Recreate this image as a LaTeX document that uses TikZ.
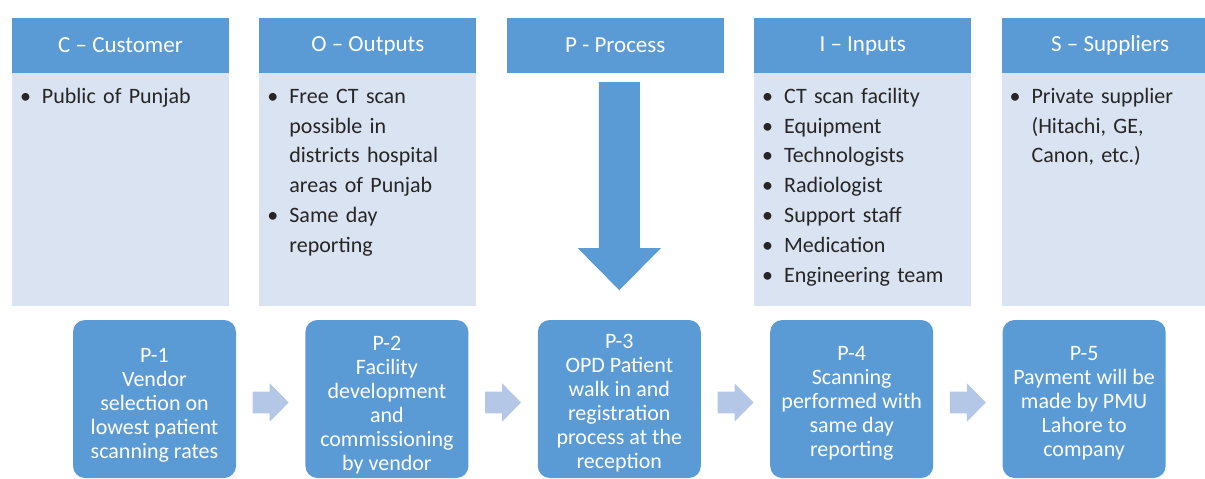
\documentclass[tikz,border=0pt]{standalone}
\usepackage{fontspec}
\setmainfont{Carlito}
\usepackage{tikz}
\usetikzlibrary{positioning, calc}
\definecolor{headblue}{RGB}{91,155,213}
\definecolor{bodyblue}{RGB}{218,227,241}
\definecolor{flowblue}{RGB}{180,199,231}
\definecolor{textgray}{RGB}{38,38,38}

% one bullet line, wrapped lines hang under the text
\newcommand{\bul}[1]{\par\hangindent=22pt\hangafter=1\noindent\makebox[22pt][l]{\textbullet}\strut#1\par}

\tikzset{
  headbox/.style={fill=headblue, text=white, minimum width=217pt, minimum height=55pt,
    inner sep=0pt, font=\fontsize{23}{27}\selectfont},
  bodybox/.style={fill=bodyblue, minimum width=217pt, minimum height=233pt, inner sep=0pt},
  bodytext/.style={text=textgray, text width=205pt, align=left, inner sep=0pt,
    anchor=north west, font=\fontsize{22}{29.8}\selectfont},
  procbox/.style={fill=headblue, rounded corners=12pt, minimum width=163pt,
    minimum height=158pt, inner sep=0pt},
  proctext/.style={text=white, align=center, inner sep=0pt, font=\fontsize{22}{24}\selectfont},
  flowarrow/.style={fill=flowblue},
  bigarrow/.style={fill=headblue}
}

\begin{document}
\begin{tikzpicture}[x=1pt, y=-1pt]
    \clip (0,0) rectangle (1205,479);

    % SIPOC header row
    \node[headbox] (hC) at (120.5,45.5) {C -- Customer};
    \node[headbox, right=30pt of hC] (hO) {O -- Outputs};
    \node[headbox, right=30pt of hO] (hP) {P - Process};
    \node[headbox, right=30pt of hP] (hI) {I -- Inputs};
    \node[headbox, right=30pt of hI] (hS) {S -- Suppliers};

    % light panels under the headers
    \foreach \h in {hC,hO,hI,hS}
        \node[bodybox, below=0pt of \h] (b\h) {};

    % bullet lists
    \node[bodytext] (tC) at ($(hC.south west)+(8,0)$) {\bul{Public of Punjab}};
    \node[bodytext] (tO) at ($(hO.south west)+(8,0)$) {%
        \bul{Free CT scan\newline possible in\newline districts hospital\newline areas of Punjab}%
        \bul{Same day\newline reporting}};
    \node[bodytext] (tI) at ($(hI.south west)+(8,0)$) {%
        \bul{CT scan facility}\bul{Equipment}\bul{Technologists}\bul{Radiologist}%
        \bul{Support staff}\bul{Medication}\bul{Engineering team}};
    \node[bodytext] (tS) at ($(hS.south west)+(8,0)$) {%
        \bul{Private supplier\newline (Hitachi, GE,\newline Canon, etc.)}};

    % process steps
    \node[procbox] (p1) at (154.5,399) {};
    \node[procbox, right=69pt of p1] (p2) {};
    \node[procbox, right=69pt of p2] (p3) {};
    \node[procbox, right=69pt of p3] (p4) {};
    \node[procbox, right=69pt of p4] (p5) {};
    \node[proctext] (t1) at ($(p1.center)+(0,6)$) {P-1\\Vendor\\selection on\\lowest patient\\scanning rates};
    \node[proctext] (t2) at ($(p2.center)+(0,6)$) {P-2\\Facility\\development\\and\\commissioning\\by vendor};
    \node[proctext] (t3) at ($(p3.center)+(0,4)$) {P-3\\OPD Patient\\walk in and\\registration\\process at the\\reception};
    \node[proctext] (t4) at ($(p4.center)+(0,4)$) {P-4\\Scanning\\performed with\\same day\\reporting};
    \node[proctext] (t5) at ($(p5.center)+(0,4)$) {P-5\\Payment will be\\made by PMU\\Lahore to\\company};

    % big arrow down from the process header
    \coordinate (bigtop) at (hP.south -| p3.north);
    \fill[bigarrow, shift={(bigtop)}] (-20.5,9) -- (-20.5,175) -- (-41.5,175) -- (0,217)
        -- (41.5,175) -- (20.5,175) -- (20.5,9) -- cycle;

    % small arrows between the steps
    \foreach \a/\b in {p1/p2, p2/p3, p3/p4, p4/p5} {
        \coordinate (m\a) at ($(\a.east)!0.5!(\b.west)$);
        \fill[flowarrow, shift={(m\a)}] (-18,-7.3) -- (-1,-7.3) -- (-1,-15.7) -- (18,3.5)
            -- (-1,22.7) -- (-1,14.3) -- (-18,14.3) -- cycle;
    }
\end{tikzpicture}
\end{document}
